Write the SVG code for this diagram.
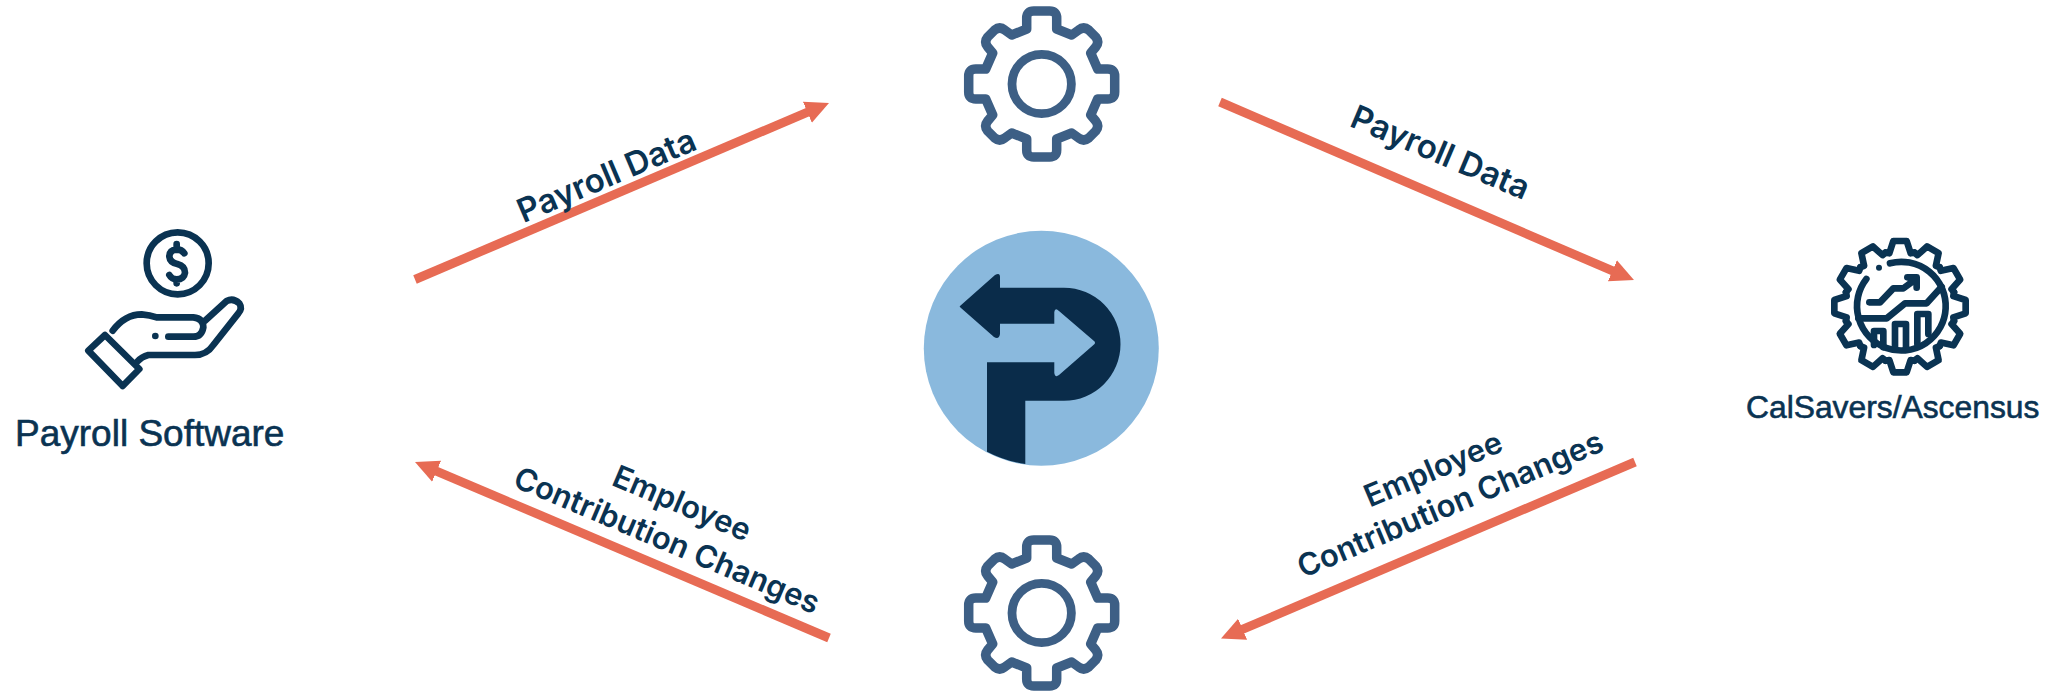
<svg xmlns="http://www.w3.org/2000/svg" xmlns:xlink="http://www.w3.org/1999/xlink" width="2054" height="691" viewBox="0 0 2054 691">
<style>
.lbl{font-family:"Inter","Liberation Sans",sans-serif;font-weight:600;font-size:31px;fill:#0a3352;text-anchor:middle}
.lbl.big{font-size:33px}
.name{font-family:"Liberation Sans",Arial,sans-serif;fill:#0a3352;stroke:#0a3352;stroke-width:.6}
.conn{stroke:#e76b54;stroke-width:9;fill:none;marker-end:url(#head)}
.ico{fill:none;stroke:#0a3352;stroke-linecap:round;stroke-linejoin:round;stroke-width:20}
.dot{fill:#0a3352;stroke:none}
</style>
<defs>
<marker id="head" markerUnits="userSpaceOnUse" markerWidth="30" markerHeight="30" viewBox="0 -15 30 30" refX="3.5" refY="0" orient="auto"><path d="M0 -11.4L23.5 0L0 11.4Z" fill="#e76b54"/></marker>
<g id="gear">
<circle r="29.7" fill="none" stroke="#3d5f85" stroke-width="8.8"/>
<path fill="none" stroke="#3d5f85" stroke-width="9.5" stroke-linejoin="round" d="M-15 -55V-66Q-15 -73 -8 -73H8Q15 -73 15 -66V-55L30 -49L37 -54Q42 -58 47 -54L54 -47Q58 -42 54 -37L49 -31L56 -15H66Q73 -15 73 -8V8Q73 15 66 15H56L49 31L54 37Q58 42 54 47L47 54Q42 58 37 54L30 49L15 55V66Q15 73 8 73H-8Q-15 73 -15 66V55L-30 49L-37 54Q-42 58 -47 54L-54 47Q-58 42 -54 37L-49 31L-56 15H-66Q-73 15 -73 8V-8Q-73 -15 -66 -15H-56L-49 -31L-54 -37Q-58 -42 -54 -47L-47 -54Q-42 -58 -37 -54L-30 -49Z"/>
</g>
<path id="tooth" d="M-43.5 -162L-32 -160L-20 -197H20L32 -160L43.5 -162"/>
</defs>
<rect width="2054" height="691" fill="#fff"/>
<g id="connectors">
<line class="conn" x1="415" y1="279.5" x2="810.6" y2="110.8"/>
<line class="conn" x1="1220" y1="102" x2="1615.6" y2="272.2"/>
<line class="conn" x1="1635" y1="462" x2="1239.4" y2="630.7"/>
<line class="conn" x1="829" y1="638" x2="433.4" y2="469.8"/>
</g>
<g id="labels">
<text class="lbl big" transform="translate(611 186) rotate(-23)">Payroll Data</text>
<text class="lbl big" transform="translate(1436 163) rotate(23)">Payroll Data</text>
<g transform="translate(682 503) rotate(23)"><text class="lbl" y="11">Employee</text></g>
<g transform="translate(667 540) rotate(23)"><text class="lbl" y="11">Contribution Changes</text></g>
<g transform="translate(1433 469) rotate(-23)"><text class="lbl" y="11">Employee</text></g>
<g transform="translate(1450 504) rotate(-23)"><text class="lbl" y="11">Contribution Changes</text></g>
</g>
<g id="payroll-software">
<g transform="translate(0 200) scale(.33333)" class="ico">
<circle cx="533" cy="190" r="93"/>
<path d="M530 132V150M553 160Q545 148 530 148Q508 150 508 170Q510 188 532 192Q555 198 555 218Q552 238 530 238Q515 238 508 225M530 238V250"/>
<path d="M265 452L315 405L418 507L368 558Z"/>
<path d="M338 392Q375 343 425 343Q450 345 470 352H580Q610 355 610 382Q605 410 580 410H505"/>
<path d="M615 362L680 303Q700 293 718 310Q728 325 715 340L640 435Q620 465 585 465H445Q425 470 412 485"/>
<circle class="dot" cx="466" cy="408" r="10"/>
</g>
<text class="name" x="15" y="445.5" font-size="37">Payroll Software</text>
</g>
<g id="gear-top"><use href="#gear" xlink:href="#gear" transform="translate(1041.7 84)"/></g>
<g id="gear-bottom"><use href="#gear" xlink:href="#gear" transform="translate(1041.7 613)"/></g>
<g id="center-logo">
<circle cx="1041.3" cy="348.3" r="117.5" fill="#8ab9dd"/>
<path fill="#0a2c4a" d="M960 306L995 275Q1000 272 1000 277V287.7H1064A56.5 56.5 0 0 1 1064 400.7H1025.3V464A117.5 117.5 0 0 1 987 451.7V362.3H1054.3V373Q1055 378 1059 375L1094 344.5Q1096 342.7 1094 341L1059 311Q1055 307 1054.3 312V323.7H1000V334Q999 340 994 337L961 308Q959 306 960 306Z"/>
</g>
<g id="calsavers">
<g transform="translate(1730 220) scale(.33333)" class="ico">
<g transform="translate(510 260)">
<use href="#tooth" xlink:href="#tooth"/>
<use href="#tooth" xlink:href="#tooth" transform="rotate(30)"/>
<use href="#tooth" xlink:href="#tooth" transform="rotate(60)"/>
<use href="#tooth" xlink:href="#tooth" transform="rotate(90)"/>
<use href="#tooth" xlink:href="#tooth" transform="rotate(120)"/>
<use href="#tooth" xlink:href="#tooth" transform="rotate(150)"/>
<use href="#tooth" xlink:href="#tooth" transform="rotate(180)"/>
<use href="#tooth" xlink:href="#tooth" transform="rotate(210)"/>
<use href="#tooth" xlink:href="#tooth" transform="rotate(240)"/>
<use href="#tooth" xlink:href="#tooth" transform="rotate(270)"/>
<use href="#tooth" xlink:href="#tooth" transform="rotate(300)"/>
<use href="#tooth" xlink:href="#tooth" transform="rotate(330)"/>
</g>
<path d="M480 130A133 133 0 1 1 409 177"/>
<circle class="dot" cx="447" cy="143" r="9"/>
<path d="M385 295H470L525 250H590L635 200"/>
<path d="M418 247H450L490 205H520L558 177M532 172H560V203"/>
<path d="M432 375V333H460V382M495 385V312H528V385M562 372V282H595V342"/>
</g>
<text class="name" x="1746" y="418" font-size="31.8">CalSavers/Ascensus</text>
</g>
</svg>
